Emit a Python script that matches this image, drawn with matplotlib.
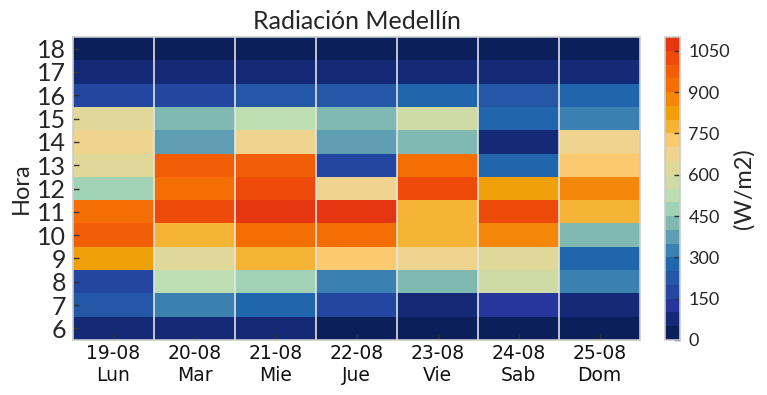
import numpy as np
import matplotlib
matplotlib.use("Agg")
import matplotlib.pyplot as plt
from matplotlib.colors import ListedColormap, BoundaryNorm
from matplotlib.ticker import NullLocator

# ---- data ----
dates = ["19-08", "20-08", "21-08", "22-08", "23-08", "24-08", "25-08"]
days = ["Lun", "Mar", "Mie", "Jue", "Vie", "Sab", "Dom"]
hours = list(range(6, 19))  # 6..18

# radiation (W/m2) per day, hours 6..18
lun = [75, 225, 175, 825, 975, 925, 475, 625, 675, 625, 175, 75, 25]
mar = [75, 325, 525, 625, 775, 1025, 925, 975, 375, 425, 175, 75, 25]
mie = [75, 275, 475, 775, 925, 1075, 1025, 975, 675, 525, 225, 75, 25]
jue = [25, 175, 325, 725, 925, 1075, 675, 175, 375, 425, 225, 75, 25]
vie = [25, 75, 425, 675, 775, 775, 1025, 925, 425, 575, 275, 75, 25]
sab = [25, 125, 575, 625, 875, 1025, 825, 275, 75, 275, 225, 75, 25]
dom = [25, 75, 325, 275, 425, 775, 875, 725, 675, 325, 275, 75, 25]

palette = ["#0b1f5a", "#152a76", "#26369a", "#2347a0", "#2457a5", "#2166ac",
           "#3a80b0", "#5e9db2", "#80b8b2", "#a1d2b5", "#bcdeb0", "#cfdaa5",
           "#dfd898", "#efd490", "#fbca70", "#f5b435", "#f0a10a", "#f58708",
           "#f56e03", "#f25e06", "#ee4b0a", "#e63511"]
levels = list(range(0, 1101, 50))
cbar_ticks = list(range(0, 1051, 150))

data = np.array([lun, mar, mie, jue, vie, sab, dom]).T  # rows = hours

fig = plt.figure(figsize=(7.67, 3.95), dpi=100)
ax = fig.add_axes([73/767, 1-340/395, (640-73)/767, (340-37)/395])
cax = fig.add_axes([665/767, 1-340/395, 15/767, (340-37)/395])

cmap = ListedColormap(palette)
norm = BoundaryNorm(levels, cmap.N)

xe = np.arange(len(days) + 1) - 0.5
ye = np.array(hours + [hours[-1] + 1]) - 0.5
mesh = ax.pcolormesh(xe, ye, data, cmap=cmap, norm=norm)

for xv in xe[1:-1]:
    ax.axvline(xv, color="#e6e6e6", lw=1.3, alpha=0.9)

ax.set_xlim(xe[0], xe[-1])
ax.set_ylim(ye[0], ye[-1])
ax.set_xticks(range(len(days)))
ax.set_xticklabels([f"{d}\n{w}" for d, w in zip(dates, days)],
                   fontsize=13.5, family="DejaVu Sans", color="#111111")
ax.set_yticks(hours)
ax.set_yticklabels([str(h) for h in hours], fontsize=18, family="Lato",
                   color="#262626")
ax.tick_params(axis="both", direction="in", length=4, width=1, color="#333333",
               pad=3)
ax.tick_params(axis="y", pad=5)
for s in ax.spines.values():
    s.set_color("#cccccc")
    s.set_linewidth(1.2)
ax.set_ylabel("Hora", fontsize=17, family="Lato", color="#262626", labelpad=4)
ax.set_title("Radiación Medellín", fontsize=18, family="Lato", color="#262626",
             pad=6)

cb = fig.colorbar(mesh, cax=cax, ticks=cbar_ticks)
cb.outline.set_edgecolor("#cccccc")
cb.outline.set_linewidth(1.2)
cax.yaxis.set_minor_locator(NullLocator())
cax.tick_params(which="major", direction="in", length=4, width=1,
                color="#333333", pad=6)
for t in cax.get_yticklabels():
    t.set_fontsize(13)
    t.set_family("Lato")
    t.set_color("#262626")
cb.set_label("(W/m2)", fontsize=17, family="Lato", color="#262626", labelpad=2)

fig.savefig("out.png", dpi=100)
